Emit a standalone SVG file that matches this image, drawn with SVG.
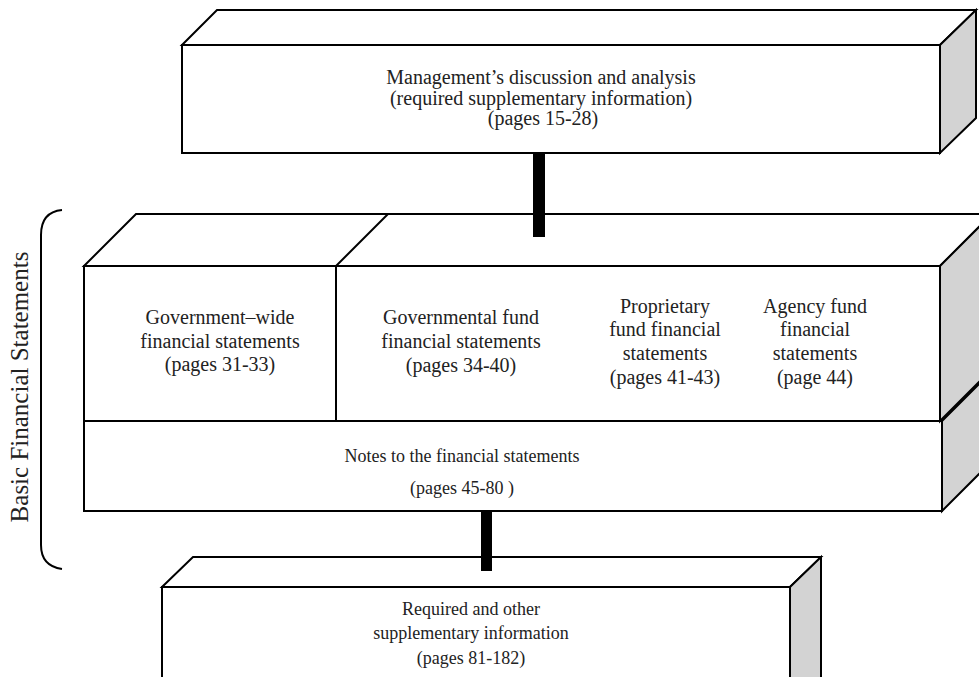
<svg xmlns="http://www.w3.org/2000/svg" width="979" height="677" viewBox="0 0 979 677">
<style>
.face{fill:#ffffff;stroke:#000;stroke-width:2;stroke-linejoin:miter}
.side{fill:#d3d3d3;stroke:#000;stroke-width:2}
.t{font-family:"Liberation Serif","Times New Roman",serif;fill:#222;text-anchor:middle}
.t20{font-size:20px}
.t18{font-size:18px}
.bar{fill:#000}
</style>
<rect width="979" height="677" fill="#fff"/>
<g id="mdna">
<polygon class="face" points="182,45 217,10 976,10 940,45"/>
<polygon class="side" points="940,45 976,10 976,118 940,153"/>
<rect class="face" x="182" y="45" width="758" height="108"/>
<text class="t t20" x="541" y="84">Management’s discussion and analysis</text>
<text class="t t20" x="541" y="105">(required supplementary information)</text>
<text class="t t20" x="543" y="125">(pages 15-28)</text>
</g>
<g id="notes">
<polygon class="side" points="942,421 994,369 994,459 942,511"/>
<rect class="face" x="84" y="421" width="858" height="90"/>
<text class="t t18" x="462" y="462">Notes to the financial statements</text>
<text class="t t18" x="462" y="494">(pages 45-80 )</text>
</g>
<g id="basic">
<polygon class="face" points="84,266 136,214 992,214 940,266"/>
<line x1="336" y1="266" x2="388" y2="214" stroke="#000" stroke-width="2"/>
<polygon class="side" points="940,266 992,214 992,369 940,421"/>
<rect class="face" x="84" y="266" width="856" height="155"/>
<line x1="336" y1="266" x2="336" y2="421" stroke="#000" stroke-width="2"/>
</g>
<g id="govwide">
<text class="t t20" x="220" y="324">Government–wide</text>
<text class="t t20" x="220" y="348">financial statements</text>
<text class="t t20" x="220" y="371">(pages 31-33)</text>
</g>
<g id="govfund">
<text class="t t20" x="461" y="324">Governmental fund</text>
<text class="t t20" x="461" y="348">financial statements</text>
<text class="t t20" x="461" y="372">(pages 34-40)</text>
</g>
<g id="propfund">
<text class="t t20" x="665" y="313">Proprietary</text>
<text class="t t20" x="665" y="336">fund financial</text>
<text class="t t20" x="665" y="360">statements</text>
<text class="t t20" x="665" y="384">(pages 41-43)</text>
</g>
<g id="agencyfund">
<text class="t t20" x="815" y="313">Agency fund</text>
<text class="t t20" x="815" y="336">financial</text>
<text class="t t20" x="815" y="360">statements</text>
<text class="t t20" x="815" y="384">(page 44)</text>
</g>
<g id="rsi">
<polygon class="face" points="162,587 193,557 821,557 790,587"/>
<polygon class="side" points="790,587 821,557 821,700 790,700"/>
<rect class="face" x="162" y="587" width="628" height="113"/>
<text class="t t18" x="471" y="615">Required and other</text>
<text class="t t18" x="471" y="639">supplementary information</text>
<text class="t t18" x="471" y="664">(pages 81-182)</text>
</g>
<g id="bracket">
<path d="M62,210 Q41,212 41,235 L41,545 Q41,566 62,569" fill="none" stroke="#000" stroke-width="2"/>
<text class="t" font-size="25" transform="translate(28,387) rotate(-90)">Basic Financial Statements</text>
</g>
<g id="connectors">
<rect class="bar" x="533" y="153" width="12" height="84"/>
<rect class="bar" x="481" y="511" width="11" height="60"/>
</g>
</svg>
